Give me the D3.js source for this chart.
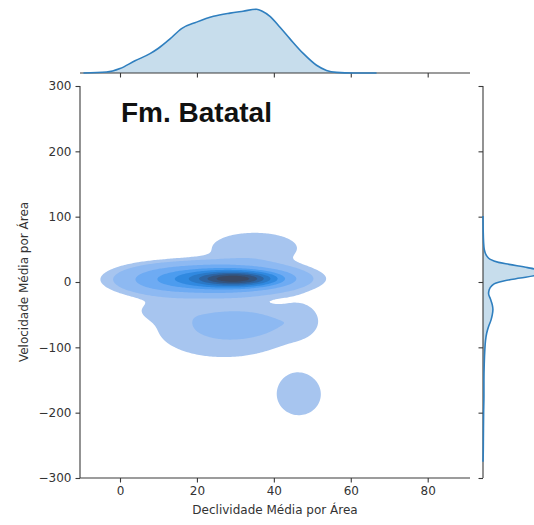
<!DOCTYPE html>
<html>
<head>
<meta charset="utf-8">
<script src="https://cdn.jsdelivr.net/npm/d3@7"></script>
<style>
  html, body { margin: 0; padding: 0; background: #fff; }
  svg { display: block; }
</style>
</head>
<body>
<svg id="chart" width="534" height="525"></svg>
<script>
// ---------------- DATA ----------------
const xTicks = [0, 20, 40, 60, 80];
const yTicks = [-300, -200, -100, 0, 100, 200, 300];
const xLabel = "Declividade Média por Área";
const yLabel = "Velocidade Média por Área";
const title = "Fm. Batatal";

// Marginal density of x (relative height)
const margX = [-9.5, -3.5, 0, 3.9, 7.8, 9.9, 13, 16, 19.9, 24.3, 28.6, 32, 35.5, 37, 39, 41.6, 44.2, 47.7, 51.1, 53.7, 56.3, 60.6, 66.7];
const margXDens = [0, 0.015, 0.07, 0.19, 0.30, 0.38, 0.53, 0.69, 0.79, 0.88, 0.93, 0.96, 0.99, 0.96, 0.88, 0.71, 0.53, 0.30, 0.12, 0.04, 0.01, 0, 0];

// Marginal density of y (relative width)
const margY = [101, 80, 60, 50, 40, 35, 30, 27, 22, 18, 14, 10, 6, 2, -2, -6, -12, -18, -26, -35, -42, -50, -58, -68, -78, -90, -103, -125, -150, -175, -200, -240, -265, -275];
const margYDens = [0, 0.003, 0.01, 0.02, 0.06, 0.11, 0.25, 0.42, 0.72, 0.92, 1.0, 0.85, 0.6, 0.35, 0.2, 0.14, 0.1, 0.09, 0.12, 0.15, 0.16, 0.15, 0.13, 0.09, 0.06, 0.04, 0.03, 0.02, 0.015, 0.015, 0.01, 0.006, 0.003, 0];

// Joint density clusters (centre x, centre y, spread x, spread y, weight)
const clusterX  = [30, 25, 11, 35, 32, 27, 47, 46.5, 12];
const clusterY  = [5, 5, 2, 52, -62, -75, -55, -172, -42];
const clusterSX = [6, 10.5, 7, 8.5, 9, 13, 3.5, 4.3, 6];
const clusterSY = [6.5, 12, 13, 18, 16, 32, 20, 24, 12];
const clusterW  = [0.24, 0.30, 0.03, 0.022, 0.018, 0.056, 0.005, 0.0155, 0.005];

// Iso-proportion levels (10 levels from thresh 0.05) and band colours
const isoProps = [0.05, 0.1556, 0.2611, 0.3667, 0.4722, 0.5778, 0.6833, 0.7889, 0.8944];
const bandColors = ["#a7c5ef", "#8db9f2", "#6eabf3", "#4c9cef", "#3089e0", "#2a78c6", "#2d64a3", "#33547f", "#3a4863"];

// ---------------- LAYOUT ----------------
const svg = d3.select("#chart");
const L = 80, R = 470, T = 86, B = 478;
const x = d3.scaleLinear().domain([-10.4, 91]).range([L, R]);
const y = d3.scaleLinear().domain([-300, 300]).range([B, T]);
const axisColor = "#3a3a3a";
const textColor = "#333";
const fontTick = "12px 'DejaVu Sans', sans-serif";

function dens(vx, vy) {
  let s = 0;
  for (let k = 0; k < clusterX.length; k++) {
    const dx = (vx - clusterX[k]) / clusterSX[k];
    const dy = (vy - clusterY[k]) / clusterSY[k];
    s += clusterW[k] / (clusterSX[k] * clusterSY[k]) * Math.exp(-0.5 * (dx * dx + dy * dy));
  }
  return s;
}

// ---------------- JOINT KDE ----------------
const cell = 1.5;
const nx = Math.ceil((R - L) / cell), ny = Math.ceil((B - T) / cell);
const values = new Float64Array(nx * ny);
for (let j = 0; j < ny; j++) {
  const vy = y.invert(T + (j + 0.5) * cell);
  for (let i = 0; i < nx; i++) {
    values[j * nx + i] = dens(x.invert(L + (i + 0.5) * cell), vy);
  }
}
const sorted = Array.from(values).sort((a, b) => b - a);
const total = d3.sum(sorted);
const cum = [];
let acc = 0;
for (const v of sorted) { acc += v; cum.push(acc / total); }
const levels = isoProps.map(p => {
  const idx = d3.bisectLeft(cum, 1 - p);
  return sorted[Math.min(idx, sorted.length - 1)];
});

const contours = d3.contours().size([nx, ny]).thresholds(levels)(values);
const proj = d3.geoTransform({
  point: function(px, py) { this.stream.point(L + px * cell, T + py * cell); }
});
const path = d3.geoPath(proj);
svg.append("g").selectAll("path")
  .data(contours)
  .join("path")
  .attr("d", path)
  .attr("fill", (d, i) => bandColors[i])
  .attr("stroke", "none");

// ---------------- MAIN AXES ----------------
const gx = svg.append("g").attr("transform", `translate(0,${B})`)
  .call(d3.axisBottom(x).tickValues(xTicks).tickSize(4.5).tickPadding(4).tickSizeOuter(0));
const gy = svg.append("g").attr("transform", `translate(${L},0)`)
  .call(d3.axisLeft(y).tickValues(yTicks).tickSize(4.5).tickPadding(4).tickSizeOuter(0)
        .tickFormat(d => d3.format("")(d).replace("-", "\u2212")));
[gx, gy].forEach(g => {
  g.select(".domain").attr("stroke", axisColor).attr("stroke-width", 1.1);
  g.selectAll(".tick line").attr("stroke", axisColor).attr("stroke-width", 1.1);
  g.selectAll(".tick text").attr("fill", textColor).style("font", fontTick);
});
gx.select(".domain").attr("d", `M${L},0H${R}`);
gy.select(".domain").attr("d", `M0,${T}V${B}`);

svg.append("text")
  .attr("x", (L + R) / 2).attr("y", 514)
  .attr("text-anchor", "middle").attr("fill", textColor).style("font", fontTick)
  .text(xLabel);
svg.append("text")
  .attr("transform", `translate(28,${(T + B) / 2}) rotate(-90)`)
  .attr("text-anchor", "middle").attr("fill", textColor).style("font", fontTick)
  .text(yLabel);

svg.append("text")
  .attr("x", 121).attr("y", 122)
  .attr("fill", "#111")
  .style("font", "bold 28px 'Liberation Sans', Arial, sans-serif")
  .text(title);

// ---------------- TOP MARGINAL ----------------
const mTop = d3.scaleLinear().domain([0, 1]).range([73, 8.6]);
const topPts = margX.map((v, i) => [v, margXDens[i]]);
const areaTop = d3.area().x(d => x(d[0])).y0(mTop(0)).y1(d => mTop(d[1])).curve(d3.curveMonotoneX);
const lineTop = d3.line().x(d => x(d[0])).y(d => mTop(d[1])).curve(d3.curveMonotoneX);
svg.append("path").attr("d", areaTop(topPts)).attr("fill", "#1f77b4").attr("fill-opacity", 0.25);
const gTop = svg.append("g").attr("transform", `translate(0,73)`)
  .call(d3.axisBottom(x).tickValues(xTicks).tickSize(4.5).tickFormat("").tickSizeOuter(0));
gTop.select(".domain").attr("d", `M${L},0H${R}`).attr("stroke", axisColor).attr("stroke-width", 1.1);
gTop.selectAll(".tick line").attr("stroke", axisColor).attr("stroke-width", 1.1);
svg.append("path").attr("d", lineTop(topPts)).attr("fill", "none").attr("stroke", "#2f7fbf").attr("stroke-width", 1.6);

// ---------------- RIGHT MARGINAL ----------------
const RX = 483;
const mRight = d3.scaleLinear().domain([0, 1]).range([RX, RX + 62]);
const rightPts = margY.map((v, i) => [v, margYDens[i]]);
const areaRight = d3.area().y(d => y(d[0])).x0(mRight(0)).x1(d => mRight(d[1])).curve(d3.curveMonotoneY);
const lineRight = d3.line().y(d => y(d[0])).x(d => mRight(d[1])).curve(d3.curveMonotoneY);
svg.append("path").attr("d", areaRight(rightPts)).attr("fill", "#1f77b4").attr("fill-opacity", 0.25);
const gRight = svg.append("g").attr("transform", `translate(${RX},0)`)
  .call(d3.axisLeft(y).tickValues(yTicks).tickSize(4.5).tickFormat("").tickSizeOuter(0));
gRight.select(".domain").attr("d", `M0,${T}V${B}`).attr("stroke", axisColor).attr("stroke-width", 1.1);
gRight.selectAll(".tick line").attr("stroke", axisColor).attr("stroke-width", 1.1);
svg.append("path").attr("d", lineRight(rightPts)).attr("fill", "none").attr("stroke", "#2f7fbf").attr("stroke-width", 1.6);
</script>
</body>
</html>
